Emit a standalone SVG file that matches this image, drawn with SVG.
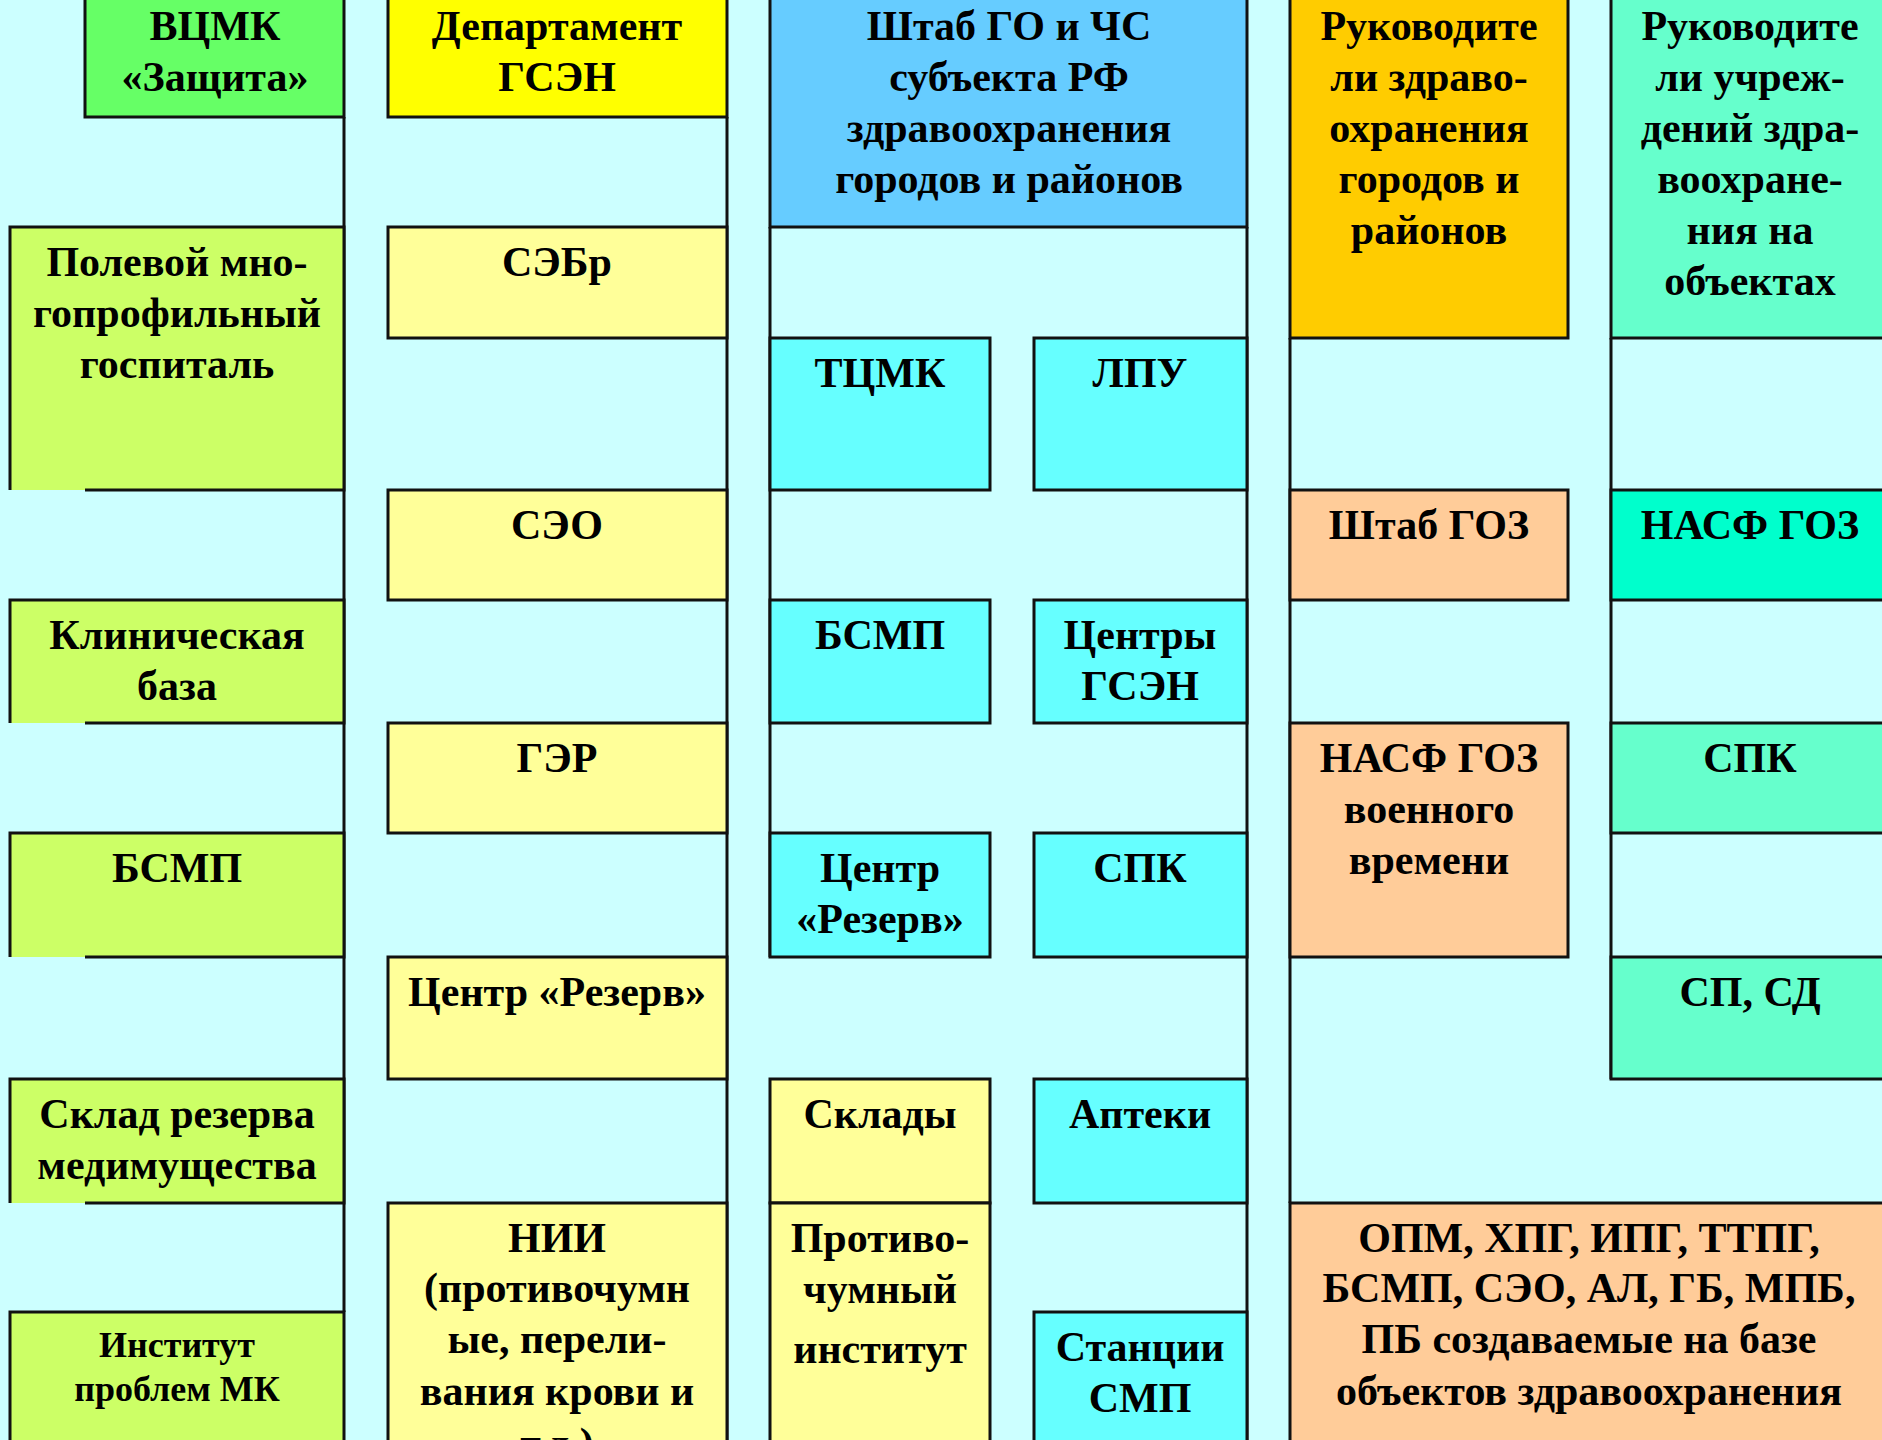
<svg xmlns="http://www.w3.org/2000/svg" width="1882" height="1440" viewBox="0 0 1882 1440">
<style>
.bd{stroke:#111;stroke-width:3;}
.ln{stroke:#111;stroke-width:3;fill:none;}
.t{font-family:"Liberation Serif","Times New Roman",serif;font-weight:bold;font-size:42px;fill:#000;text-anchor:middle;}
.ts{font-size:36px;}
.gA{fill:#66FF66}.lA{fill:#CCFF66}.yB{fill:#FFFF00}.lY{fill:#FFFF99}.bC{fill:#66CCFF}.cC{fill:#66FFFF}
.oD{fill:#FFCC00}.pD{fill:#FFCC99}.mE{fill:#66FFCC}.tE{fill:#00FFCC}
</style>
<rect x="0" y="0" width="1882" height="1440" fill="#CCFFFF"/>
<g id="connectors">
<line class="ln" x1="344" y1="117" x2="344" y2="1312"/>
<line class="ln" x1="727" y1="117" x2="727" y2="1445"/>
<line class="ln" x1="770" y1="227" x2="770" y2="957"/>
<line class="ln" x1="1247" y1="227" x2="1247" y2="1445"/>
<line class="ln" x1="1290" y1="338" x2="1290" y2="1203"/>
<line class="ln" x1="1611" y1="338" x2="1611" y2="1079"/>
</g>
<!-- Column A -->
<g id="vcmk"><rect class="gA bd" x="85" y="-10" width="259" height="127"/>
<text class="t" x="215" y="40">ВЦМК</text><text class="t" x="215" y="91">«Защита»</text></g>
<g id="polevoy"><rect class="lA" x="10" y="227" width="334" height="263"/><path class="ln" d="M85,490 H344 V227 H10 V490"/>
<text class="t" x="177" y="276">Полевой мно-</text><text class="t" x="177" y="327">гопрофильный</text><text class="t" x="177" y="378">госпиталь</text></g>
<g id="klinbaza"><rect class="lA" x="10" y="600" width="334" height="123"/><path class="ln" d="M85,723 H344 V600 H10 V723"/>
<text class="t" x="177" y="649">Клиническая</text><text class="t" x="177" y="700">база</text></g>
<g id="bsmpA"><rect class="lA" x="10" y="833" width="334" height="124"/><path class="ln" d="M85,957 H344 V833 H10 V957"/>
<text class="t" x="177" y="882">БСМП</text></g>
<g id="sklad"><rect class="lA" x="10" y="1079" width="334" height="124"/><path class="ln" d="M85,1203 H344 V1079 H10 V1203"/>
<text class="t" x="177" y="1128">Склад резерва</text><text class="t" x="177" y="1179">медимущества</text></g>
<g id="institut"><rect class="lA bd" x="10" y="1312" width="334" height="140"/>
<text class="t ts" x="177" y="1357">Институт</text><text class="t ts" x="177" y="1401">проблем МК</text></g>
<!-- Column B -->
<g id="dept"><rect class="yB bd" x="388" y="-10" width="339" height="127"/>
<text class="t" x="557" y="40">Департамент</text><text class="t" x="557" y="91">ГСЭН</text></g>
<g id="sebr"><rect class="lY bd" x="388" y="227" width="339" height="111"/><text class="t" x="557" y="276">СЭБр</text></g>
<g id="seo"><rect class="lY bd" x="388" y="490" width="339" height="110"/><text class="t" x="557" y="539">СЭО</text></g>
<g id="ger"><rect class="lY bd" x="388" y="723" width="339" height="110"/><text class="t" x="557" y="772">ГЭР</text></g>
<g id="rezervB"><rect class="lY bd" x="388" y="957" width="339" height="122"/><text class="t" x="557" y="1006">Центр «Резерв»</text></g>
<g id="nii"><rect class="lY bd" x="388" y="1203" width="339" height="250"/>
<text class="t" x="557" y="1252">НИИ</text><text class="t" x="557" y="1302">(противочумн</text><text class="t" x="557" y="1353">ые, перели-</text><text class="t" x="557" y="1405">вания крови и</text><text class="t" x="557" y="1457">т.д.)</text></g>
<!-- Column C -->
<g id="shtabGO"><rect class="bC bd" x="770" y="-10" width="477" height="237"/>
<text class="t" x="1009" y="40">Штаб ГО и ЧС</text><text class="t" x="1009" y="91">субъекта РФ</text><text class="t" x="1009" y="142">здравоохранения</text><text class="t" x="1009" y="193">городов и районов</text></g>
<g id="tcmk"><rect class="cC bd" x="770" y="338" width="220" height="152"/><text class="t" x="880" y="387">ТЦМК</text></g>
<g id="lpu"><rect class="cC bd" x="1034" y="338" width="213" height="152"/><text class="t" x="1140" y="387">ЛПУ</text></g>
<g id="bsmpC"><rect class="cC bd" x="770" y="600" width="220" height="123"/><text class="t" x="880" y="649">БСМП</text></g>
<g id="centry"><rect class="cC bd" x="1034" y="600" width="213" height="123"/><text class="t" x="1140" y="649">Центры</text><text class="t" x="1140" y="700">ГСЭН</text></g>
<g id="rezervC"><rect class="cC bd" x="770" y="833" width="220" height="124"/><text class="t" x="880" y="882">Центр</text><text class="t" x="880" y="933">«Резерв»</text></g>
<g id="spkC"><rect class="cC bd" x="1034" y="833" width="213" height="124"/><text class="t" x="1140" y="882">СПК</text></g>
<g id="sklady"><rect class="lY bd" x="770" y="1079" width="220" height="124"/><text class="t" x="880" y="1128">Склады</text></g>
<g id="apteki"><rect class="cC bd" x="1034" y="1079" width="213" height="124"/><text class="t" x="1140" y="1128">Аптеки</text></g>
<g id="protivochum"><rect class="lY bd" x="770" y="1203" width="220" height="250"/>
<text class="t" x="880" y="1252">Противо-</text><text class="t" x="880" y="1303">чумный</text><text class="t" x="880" y="1363">институт</text></g>
<g id="stancii"><rect class="cC bd" x="1034" y="1312" width="213" height="140"/><text class="t" x="1140" y="1361">Станции</text><text class="t" x="1140" y="1412">СМП</text></g>
<!-- Column D -->
<g id="rukD"><rect class="oD bd" x="1290" y="-10" width="278" height="348"/>
<text class="t" x="1429" y="40">Руководите</text><text class="t" x="1429" y="91">ли здраво-</text><text class="t" x="1429" y="142">охранения</text><text class="t" x="1429" y="193">городов и</text><text class="t" x="1429" y="244">районов</text></g>
<g id="shtabGOZ"><rect class="pD bd" x="1290" y="490" width="278" height="110"/><text class="t" x="1429" y="539">Штаб ГОЗ</text></g>
<g id="nasfD"><rect class="pD bd" x="1290" y="723" width="278" height="234"/>
<text class="t" x="1429" y="772">НАСФ ГОЗ</text><text class="t" x="1429" y="823">военного</text><text class="t" x="1429" y="874">времени</text></g>
<g id="opm"><rect class="pD bd" x="1290" y="1203" width="620" height="250"/>
<text class="t" x="1589" y="1252">ОПМ, ХПГ, ИПГ, ТТПГ,</text><text class="t" x="1589" y="1302">БСМП, СЭО, АЛ, ГБ, МПБ,</text><text class="t" x="1589" y="1353">ПБ создаваемые на базе</text><text class="t" x="1589" y="1405">объектов здравоохранения</text></g>
<!-- Column E -->
<g id="rukE"><rect class="mE bd" x="1611" y="-10" width="290" height="348"/>
<text class="t" x="1750" y="40">Руководите</text><text class="t" x="1750" y="91">ли учреж-</text><text class="t" x="1750" y="142">дений здра-</text><text class="t" x="1750" y="193">воохране-</text><text class="t" x="1750" y="244">ния на</text><text class="t" x="1750" y="295">объектах</text></g>
<g id="nasfE"><rect class="tE bd" x="1611" y="490" width="290" height="110"/><text class="t" x="1750" y="539">НАСФ ГОЗ</text></g>
<g id="spkE"><rect class="mE bd" x="1611" y="723" width="290" height="110"/><text class="t" x="1750" y="772">СПК</text></g>
<g id="spsd"><rect class="mE bd" x="1611" y="957" width="290" height="122"/><text class="t" x="1750" y="1006">СП, СД</text></g>
</svg>
